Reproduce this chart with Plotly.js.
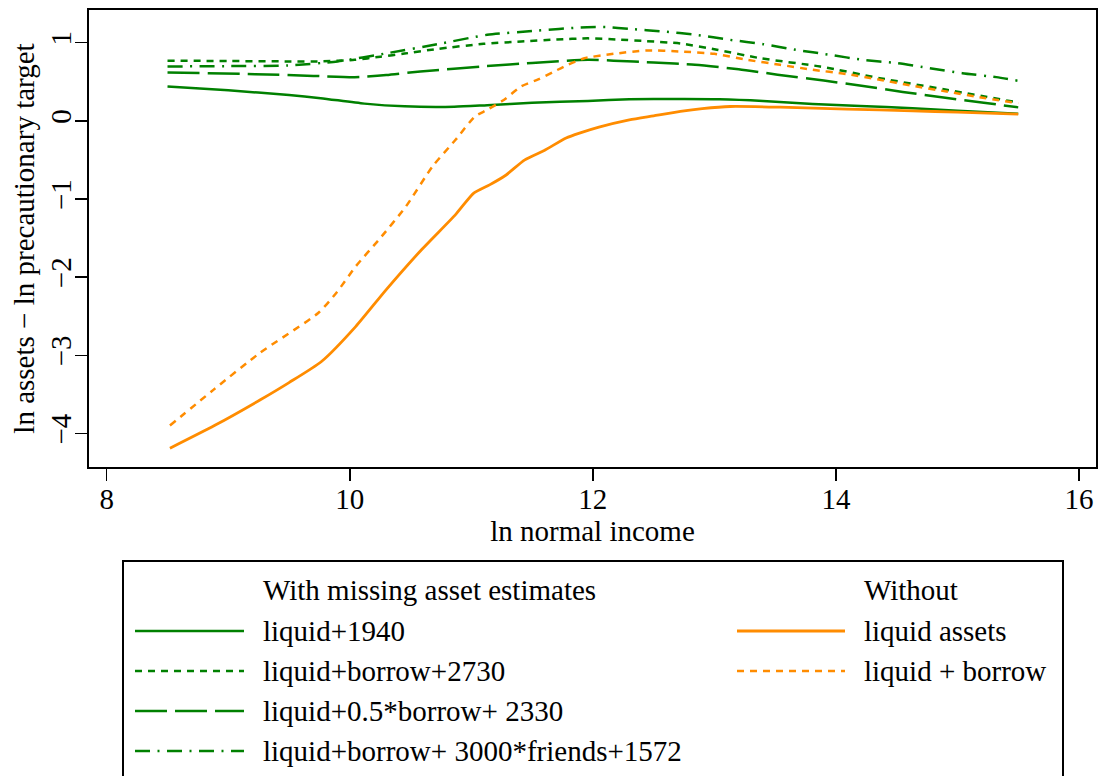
<!DOCTYPE html>
<html>
<head>
<meta charset="utf-8">
<script src="https://cdn.plot.ly/plotly-3.0.1.min.js"></script>
<style>
  html, body { margin: 0; padding: 0; background: #ffffff; }
  #chart { width: 1101px; height: 776px; }
</style>
</head>
<body>
<div id="chart"></div>
<script>
// ln normal income (x) vs ln assets - ln precautionary target (y)

// With missing asset estimates
const liquid1940X = [8.5, 9.0, 9.5, 9.76, 10.12, 10.45, 10.86, 11.13, 11.5, 11.96, 12.3, 12.7, 13.04, 13.4, 13.81, 14.2, 14.63, 15.0, 15.5];
const liquid1940Y = [0.44, 0.39, 0.33, 0.29, 0.22, 0.185, 0.18, 0.2, 0.23, 0.255, 0.275, 0.28, 0.277, 0.255, 0.215, 0.19, 0.162, 0.13, 0.09];

const borrow2730X = [8.5, 9.0, 9.5, 9.76, 10.04, 10.25, 10.45, 10.72, 11.1, 11.41, 11.7, 11.96, 12.2, 12.44, 12.72, 13.02, 13.38, 13.87, 14.36, 14.91, 15.5];
const borrow2730Y = [0.77, 0.765, 0.76, 0.76, 0.78, 0.82, 0.86, 0.92, 0.985, 1.015, 1.04, 1.055, 1.04, 1.02, 0.99, 0.91, 0.80, 0.695, 0.546, 0.397, 0.234];

const halfBorrow2330X = [8.5, 9.22, 9.7, 10.04, 10.3, 10.58, 11.13, 11.5, 11.96, 12.17, 12.5, 12.84, 13.2, 13.52, 13.9, 14.21, 14.55, 14.9, 15.2, 15.5];
const halfBorrow2330Y = [0.618, 0.597, 0.575, 0.559, 0.585, 0.631, 0.70, 0.74, 0.78, 0.77, 0.745, 0.717, 0.66, 0.59, 0.515, 0.448, 0.37, 0.294, 0.235, 0.172];

const friends1572X = [8.5, 9.0, 9.49, 9.9, 10.31, 10.72, 11.13, 11.55, 11.9, 12.11, 12.3, 12.58, 12.85, 13.13, 13.4, 13.67, 13.95, 14.22, 14.5, 14.77, 15.04, 15.32, 15.5];
const friends1572Y = [0.695, 0.70, 0.708, 0.76, 0.866, 0.98, 1.10, 1.155, 1.195, 1.199, 1.177, 1.143, 1.10, 1.036, 0.981, 0.908, 0.845, 0.78, 0.738, 0.674, 0.61, 0.559, 0.512];

// Without
const liquidAssetsX = [8.52, 8.886, 9.264, 9.5, 9.767, 10.05, 10.30, 10.59, 10.87, 11.02, 11.15, 11.28, 11.44, 11.6, 11.78, 11.89, 12.05, 12.3, 12.5, 12.72, 12.9, 13.13, 13.54, 14.09, 14.63, 15.0, 15.5];
const liquidAssetsY = [-4.19, -3.90, -3.57, -3.35, -3.08, -2.63, -2.16, -1.65, -1.20, -0.925, -0.82, -0.70, -0.50, -0.38, -0.22, -0.157, -0.08, 0.013, 0.064, 0.12, 0.155, 0.183, 0.175, 0.15, 0.128, 0.11, 0.086];

const liquidBorrowX = [8.52, 8.88, 9.26, 9.74, 9.89, 10.05, 10.24, 10.46, 10.68, 10.87, 11.03, 11.13, 11.27, 11.41, 11.55, 11.68, 11.8, 11.93, 12.17, 12.44, 12.72, 13.0, 13.27, 13.54, 13.81, 14.08, 14.36, 14.63, 14.91, 15.18, 15.5];
const liquidBorrowY = [-3.90, -3.44, -2.97, -2.46, -2.20, -1.86, -1.52, -1.10, -0.585, -0.243, 0.055, 0.14, 0.27, 0.44, 0.53, 0.63, 0.72, 0.80, 0.857, 0.90, 0.887, 0.857, 0.78, 0.717, 0.653, 0.60, 0.525, 0.448, 0.375, 0.303, 0.226];

const xTicks = [8, 10, 12, 14, 16];
const yTicks = [-4, -3, -2, -1, 0, 1];
const yTickText = ['\u22124', '\u22123', '\u22122', '\u22121', '0', '1'];

const groupHeaders = ['With missing asset estimates', 'Without'];
const withLabels = ['liquid+1940', 'liquid+borrow+2730', 'liquid+0.5*borrow+ 2330', 'liquid+borrow+ 3000*friends+1572'];
const withoutLabels = ['liquid assets', 'liquid + borrow'];

const GREEN = '#008000';
const ORANGE = '#ff8c00';
const FONT = 'Liberation Serif, Times New Roman, serif';

const DOT = '7px,6px';
const LONGDASH = '32px,8px';
const DOTDASH = '15px,7.5px,2px,7.5px';

const withStyles = [
  { color: GREEN, dash: 'solid', width: 2.5 },
  { color: GREEN, dash: DOT, width: 2.5 },
  { color: GREEN, dash: LONGDASH, width: 2.5 },
  { color: GREEN, dash: DOTDASH, width: 2.5 }
];
const withoutStyles = [
  { color: ORANGE, dash: 'solid', width: 2.8 },
  { color: ORANGE, dash: DOT, width: 2.5 }
];

const withData = [
  [liquid1940X, liquid1940Y],
  [borrow2730X, borrow2730Y],
  [halfBorrow2330X, halfBorrow2330Y],
  [friends1572X, friends1572Y]
];
const withoutData = [
  [liquidAssetsX, liquidAssetsY],
  [liquidBorrowX, liquidBorrowY]
];

const traces = [];
withData.forEach((d, i) => traces.push({
  x: d[0], y: d[1], type: 'scatter', mode: 'lines', name: withLabels[i],
  line: Object.assign({ shape: 'spline', smoothing: 0.6 }, withStyles[i]), showlegend: false
}));
withoutData.forEach((d, i) => traces.push({
  x: d[0], y: d[1], type: 'scatter', mode: 'lines', name: withoutLabels[i],
  line: Object.assign({ shape: 'spline', smoothing: 0.6 }, withoutStyles[i]), showlegend: false
}));

// plot-area geometry in pixels, used to place the key below the axes
const W = 1101, H = 776;
const M = { l: 89, r: 5, t: 10, b: 309 };
const PW = W - M.l - M.r, PH = H - M.t - M.b;
const px = v => (v - M.l) / PW;
const py = v => (H - M.b - v) / PH;

const shapes = [];
const annotations = [];

// key frame (open at the bottom edge of the page)
shapes.push({
  type: 'rect', xref: 'paper', yref: 'paper',
  x0: px(123), x1: px(1063), y0: py(561), y1: py(800),
  line: { color: '#000', width: 2 }, fillcolor: 'rgba(0,0,0,0)'
});

const rowY = [631, 671, 711, 751];
const headerY = 590;

function keyColumn(lineX0, lineX1, textX, header, labels, styles) {
  annotations.push({
    xref: 'paper', yref: 'paper', x: px(textX), y: py(headerY),
    xanchor: 'left', yanchor: 'middle', text: header, showarrow: false,
    font: { family: FONT, size: 29, color: '#000' }
  });
  labels.forEach((lab, i) => {
    shapes.push({
      type: 'line', xref: 'paper', yref: 'paper',
      x0: px(lineX0), x1: px(lineX1), y0: py(rowY[i]), y1: py(rowY[i]),
      line: { color: styles[i].color, width: styles[i].width, dash: styles[i].dash }
    });
    annotations.push({
      xref: 'paper', yref: 'paper', x: px(textX), y: py(rowY[i]),
      xanchor: 'left', yanchor: 'middle', text: lab, showarrow: false,
      font: { family: FONT, size: 29, color: '#000' }
    });
  });
}
keyColumn(135, 244, 261, groupHeaders[0], withLabels, withStyles);
keyColumn(737, 845, 862, groupHeaders[1], withoutLabels, withoutStyles);

const axisCommon = {
  showline: true, linecolor: '#000', linewidth: 2, mirror: true,
  ticks: 'outside', ticklen: 12, tickwidth: 1.5, tickcolor: '#000',
  showgrid: false, zeroline: false,
  tickfont: { family: FONT, size: 29, color: '#000' }
};

const layout = {
  width: W, height: H,
  margin: M,
  paper_bgcolor: '#fff', plot_bgcolor: '#fff',
  font: { family: FONT, size: 29, color: '#000' },
  showlegend: false,
  xaxis: Object.assign({}, axisCommon, {
    range: [7.854, 16.14], tickmode: 'array', tickvals: xTicks,
    ticklabelstandoff: -7,
    title: { text: 'ln normal income', font: { family: FONT, size: 29, color: '#000' }, standoff: 0 }
  }),
  yaxis: Object.assign({}, axisCommon, {
    range: [-4.43, 1.418], tickmode: 'array', tickvals: yTicks, ticktext: yTickText,
    tickangle: -90, ticklabelstandoff: -8,
    title: { text: 'ln assets \u2212 ln precautionary target', font: { family: FONT, size: 29, color: '#000' }, standoff: 2 }
  }),
  shapes: shapes,
  annotations: annotations
};

Plotly.newPlot('chart', traces, layout, { staticPlot: true, displayModeBar: false });
</script>
</body>
</html>
